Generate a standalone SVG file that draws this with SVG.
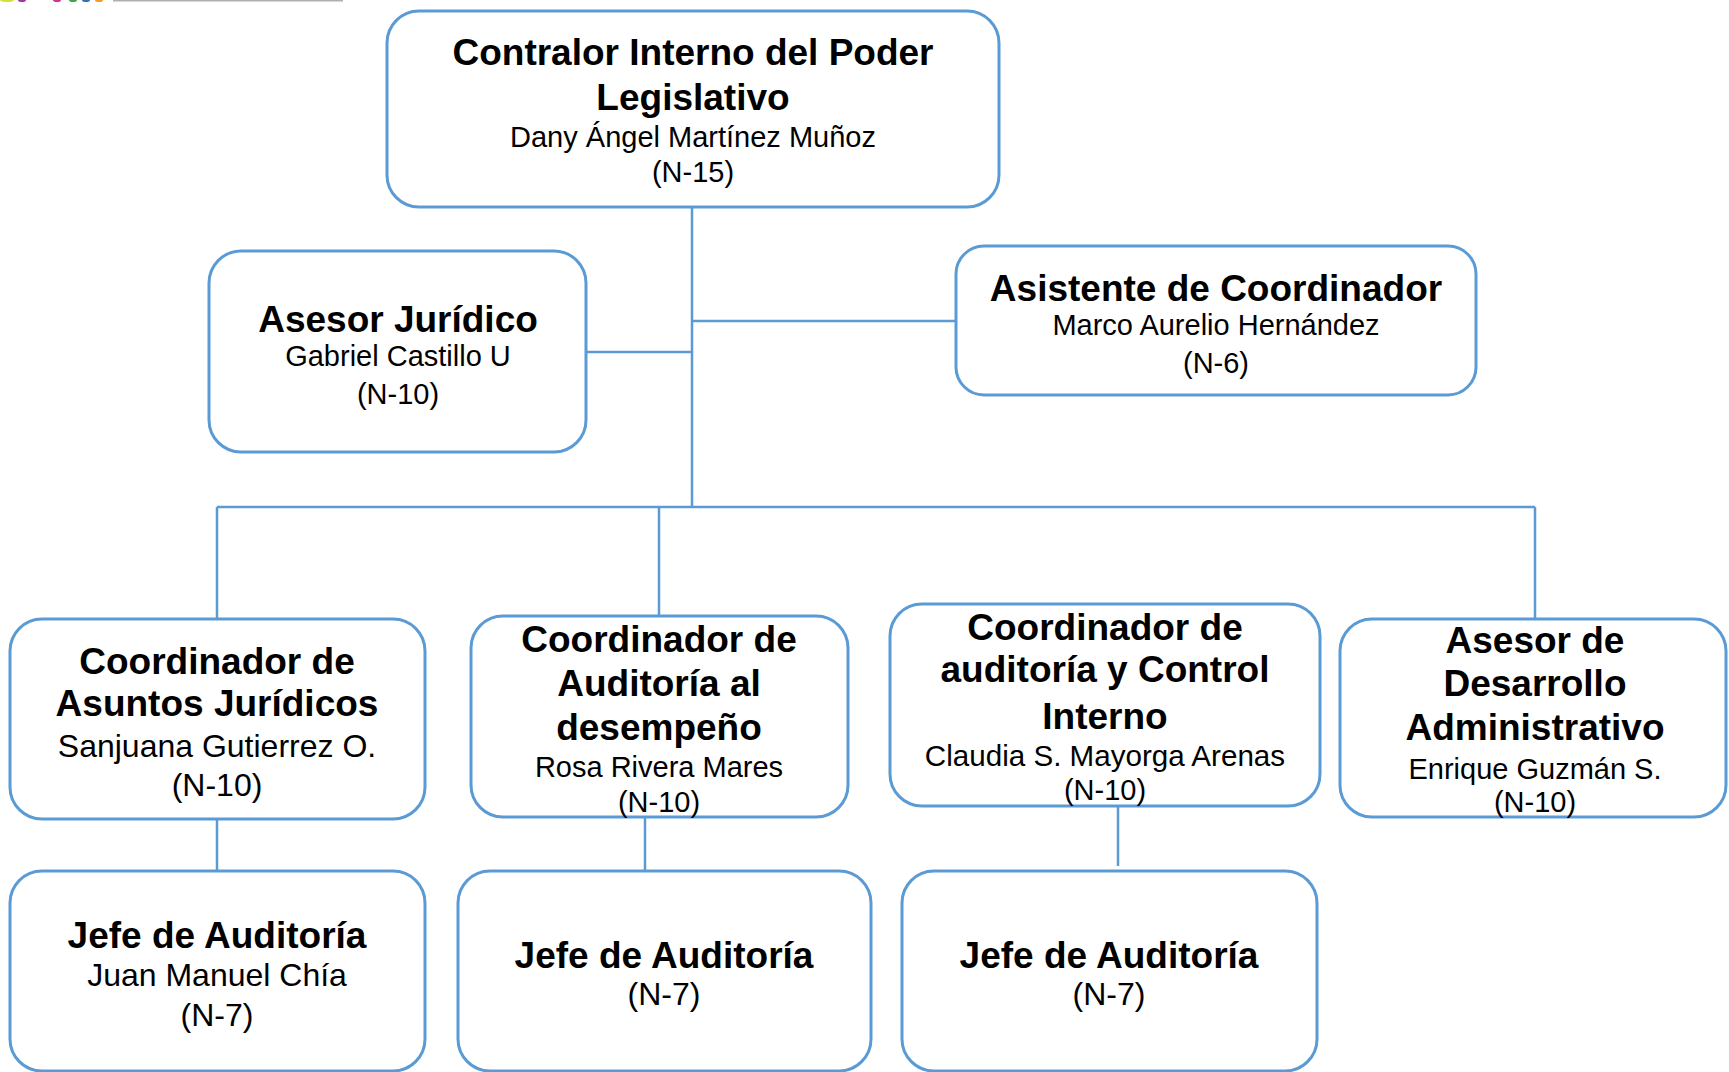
<svg xmlns="http://www.w3.org/2000/svg" width="1729" height="1072" viewBox="0 0 1729 1072">
<style>
.box{fill:#fff;stroke:#5B9BD5;stroke-width:3}
.ln{fill:none;stroke:#5B9BD5;stroke-width:2.5}
text{font-family:"Liberation Sans",Arial,sans-serif;text-anchor:middle;fill:#000}
.t{font-weight:bold;font-size:37px}
.n{font-size:29px}
.m{font-size:32px}
</style>
<rect width="1729" height="1072" fill="#fff"/>
<g id="logo-fragment">
<ellipse cx="7" cy="0" rx="7" ry="2" fill="#D4E034"/>
<ellipse cx="22" cy="0" rx="4" ry="2" fill="#A3379B"/>
<ellipse cx="57" cy="0" rx="4" ry="2" fill="#C9378E"/>
<ellipse cx="73" cy="0" rx="4" ry="2" fill="#3FA34D"/>
<ellipse cx="86" cy="0" rx="4" ry="2" fill="#2E75B6"/>
<ellipse cx="99" cy="0" rx="4" ry="2" fill="#F29A2E"/>
<rect x="113" y="0" width="230" height="1.5" fill="#b0b0b0"/>
</g>
<g id="connectors">
<path class="ln" d="M692 207V507"/>
<path class="ln" d="M586 352H692"/>
<path class="ln" d="M692 321H956"/>
<path class="ln" d="M217 507H1535"/>
<path class="ln" d="M217 507V619"/>
<path class="ln" d="M659 507V616"/>
<path class="ln" d="M1535 507V619"/>
<path class="ln" d="M217 819V871"/>
<path class="ln" d="M645 817V871"/>
<path class="ln" d="M1118 806V866"/>
</g>
<g id="contralor">
<rect class="box" x="387" y="11" width="612" height="196" rx="32"/>
<text class="t" x="693" y="65">Contralor Interno del Poder</text>
<text class="t" x="693" y="110">Legislativo</text>
<text class="n" x="693" y="147">Dany Ángel Martínez Muñoz</text>
<text class="n" x="693" y="182">(N-15)</text>
</g>
<g id="asesor-juridico">
<rect class="box" x="209" y="251" width="377" height="201" rx="32"/>
<text class="t" x="398" y="332">Asesor Jurídico</text>
<text class="n" x="398" y="366">Gabriel Castillo U</text>
<text class="n" x="398" y="404">(N-10)</text>
</g>
<g id="asistente">
<rect class="box" x="956" y="246" width="520" height="149" rx="28"/>
<text class="t" x="1216" y="301">Asistente de Coordinador</text>
<text class="n" x="1216" y="335">Marco Aurelio Hernández</text>
<text class="n" x="1216" y="373">(N-6)</text>
</g>
<g id="coord-asuntos-juridicos">
<rect class="box" x="10" y="619" width="415" height="200" rx="32"/>
<text class="t" x="217" y="674">Coordinador de</text>
<text class="t" x="217" y="716">Asuntos Jurídicos</text>
<text class="m" x="217" y="757">Sanjuana Gutierrez O.</text>
<text class="m" x="217" y="796">(N-10)</text>
</g>
<g id="coord-auditoria-desempeno">
<rect class="box" x="471" y="616" width="377" height="201" rx="32"/>
<text class="t" x="659" y="652">Coordinador de</text>
<text class="t" x="659" y="696">Auditoría al</text>
<text class="t" x="659" y="740">desempeño</text>
<text class="n" x="659" y="777">Rosa Rivera Mares</text>
<text class="n" x="659" y="812">(N-10)</text>
</g>
<g id="coord-auditoria-control">
<rect class="box" x="890" y="604" width="430" height="202" rx="32"/>
<text class="t" x="1105" y="640">Coordinador de</text>
<text class="t" x="1105" y="682">auditoría y Control</text>
<text class="t" x="1105" y="729">Interno</text>
<text class="n" x="1105" y="766" style="font-size:29.6px">Claudia S. Mayorga Arenas</text>
<text class="n" x="1105" y="800">(N-10)</text>
</g>
<g id="asesor-desarrollo">
<rect class="box" x="1340" y="619" width="386" height="198" rx="32"/>
<text class="t" x="1535" y="653">Asesor de</text>
<text class="t" x="1535" y="696">Desarrollo</text>
<text class="t" x="1535" y="740">Administrativo</text>
<text class="n" x="1535" y="779">Enrique Guzmán S.</text>
<text class="n" x="1535" y="812">(N-10)</text>
</g>
<g id="jefe-1">
<rect class="box" x="10" y="871" width="415" height="200" rx="32"/>
<text class="t" x="217" y="948">Jefe de Auditoría</text>
<text class="m" x="217" y="986">Juan Manuel Chía</text>
<text class="m" x="217" y="1026">(N-7)</text>
</g>
<g id="jefe-2">
<rect class="box" x="458" y="871" width="413" height="200" rx="32"/>
<text class="t" x="664" y="968">Jefe de Auditoría</text>
<text class="m" x="664" y="1005">(N-7)</text>
</g>
<g id="jefe-3">
<rect class="box" x="902" y="871" width="415" height="200" rx="32"/>
<text class="t" x="1109" y="968">Jefe de Auditoría</text>
<text class="m" x="1109" y="1005">(N-7)</text>
</g>
</svg>
